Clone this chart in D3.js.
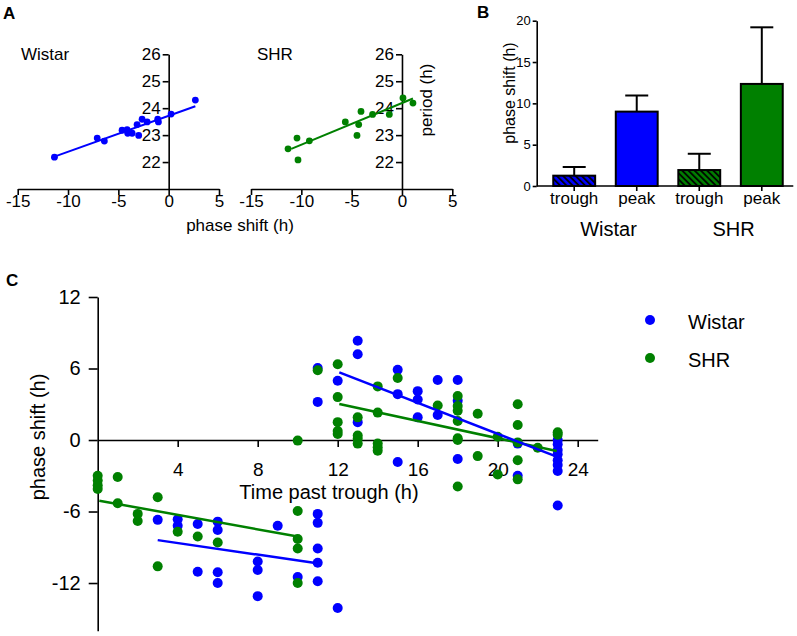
<!DOCTYPE html>
<html><head><meta charset="utf-8">
<script src="https://cdn.jsdelivr.net/npm/d3@7"></script>
<style>
body{margin:0;background:#fff}
svg{display:block}
text{font-family:"Liberation Sans",Arial,sans-serif;fill:#000}
</style>
</head><body>
<svg id="chart" width="797" height="636"></svg>
<script>
// ---------- DATA ----------
// Panel A: period vs phase shift
const wistarShiftA = [-11.35,-7.1,-6.39,-4.63,-4.13,-4.07,-3.63,-3.14,-2.98,-2.64,-2.14,-1.09,-1.02,0.24,2.65];
const wistarPeriodA = [22.18,22.89,22.78,23.18,23.2,23.07,23.07,23.39,22.99,23.59,23.49,23.59,23.49,23.78,24.3];
const shrShiftA = [-11.32,-10.43,-10.33,-9.2,-5.63,-4.47,-4.3,-4.07,-2.92,-1.26,0.1,1.09];
const shrPeriodA = [22.49,22.89,22.08,22.79,23.49,22.99,23.39,23.88,23.77,23.77,24.38,24.19];
const wistarFitA = [[-11.35,22.2],[2.65,24.07]];
const shrFitA = [[-11.0,22.49],[1.09,24.36]];
const xTicksA = [-15,-10,-5,0,5];
const yTicksA = [22,23,24,25,26];

// Panel B: bars
const barGroups = ["Wistar","Wistar","SHR","SHR"];
const barCategories = ["trough","peak","trough","peak"];
const barMeans = [1.25,9.0,1.93,12.35];
const barErrors = [1.05,1.95,1.97,6.85];
const yTicksB = [0,5,10,15,20];

// Panel C: phase shift vs time past trough
const wistarTimeC =  [3,4,4,5,5,6,6,6,6,8,8,8,9,10,11,11,11,11,11,11,11,12,12,13,13,13,15,15,15,16,16,16,17,17,18,18,18,21,21,23,23,23,23,23,23,23,23];
const wistarShiftC = [-6.7,-6.65,-7.2,-7.05,-11.05,-6.85,-7.55,-11.1,-12.0,-10.2,-10.9,-13.1,-7.2,-11.5,6.05,3.2,-6.2,-6.95,-9.1,-10.3,-11.85,-14.1,4.97,8.33,7.2,1.5,5.9,3.85,-1.85,4.1,3.4,1.9,5.03,2.1,5.03,3.3,-1.6,-3.0,-0.3,0,-0.36,-0.84,-1.2,-1.7,-2.1,-2.6,-5.5];
const shrTimeC =  [0,0,0,0,1,1,2,2,3,3,4,5,6,10,10,10,10,10,11,12,12,12,12,12,13,13,13,13,14,14,14,14,14,15,17,18,18,18,18,18,18,18,19,19,20,20,21,21,21,21,21,22,23,23];
const shrShiftC = [-3.0,-3.4,-3.8,-4.1,-3.1,-5.3,-6.2,-6.8,-4.8,-10.6,-7.7,-8.1,-8.6,-0.05,-5.95,-8.3,-9.1,-12.0,5.85,6.35,3.6,1.5,0.75,0.5,1.9,0.37,0.1,-0.3,4.5,2.3,-0.3,-0.6,-0.9,5.2,2.9,3.7,2.85,2.46,1.6,0.14,0,-3.9,2.2,-1.35,0.28,-2.9,3.0,1.26,-0.2,-1.7,-3.3,-0.65,0.65,0.45];
const wistarFitEarly = [[3,-8.4],[10.8,-10.3]];
const wistarFitLate = [[12.08,5.68],[22.95,-1.4]];
const shrFitEarly = [[0.08,-5.09],[10,-8.1]];
const shrFitLate = [[12.08,3.02],[22.95,-0.92]];
const xTicksC = [4,8,12,16,20,24];
const yTicksC = [-12,-6,0,6,12];
const legendLabels = ["Wistar","SHR"];

const BLUE = "#0000ff", GREEN = "#008000";
const FONT = '"Liberation Sans", Arial, sans-serif';
const fmt = d => String(d);

const svg = d3.select("#chart");
const zip = (a,b) => a.map((v,i)=>[v,b[i]]);

function styleAxis(g, fs){
  g.attr("font-size", fs).attr("font-family", FONT);
  g.selectAll("path,line").attr("stroke","#000").attr("stroke-width",1.6);
  g.selectAll("text").attr("fill","#000");
}

// ---------- PANEL A ----------
const yA = d3.scaleLinear([21,26],[189,54.3]);
function scatterA(xRange, xs, ys, fit, color, name, nameX){
  const x = d3.scaleLinear([-15,5], xRange);
  const g = svg.append("g");
  g.append("g").attr("transform",`translate(0,${yA(21)})`)
    .call(d3.axisBottom(x).tickValues(xTicksA).tickFormat(fmt).tickSize(6).tickSizeOuter(0).tickPadding(0))
    .call(a=>styleAxis(a,17));
  g.append("g").attr("transform",`translate(${x(0)},0)`)
    .call(d3.axisLeft(yA).tickValues(yTicksA).tickFormat(fmt).tickSize(6).tickSizeOuter(0).tickPadding(2))
    .call(a=>styleAxis(a,17));
  g.append("path").datum(fit)
    .attr("d", d3.line().x(d=>x(d[0])).y(d=>yA(d[1])))
    .attr("stroke",color).attr("stroke-width",2).attr("fill","none");
  g.selectAll("circle.p").data(zip(xs,ys)).join("circle")
    .attr("cx",d=>x(d[0])).attr("cy",d=>yA(d[1])).attr("r",3.4).attr("fill",color);
  g.append("text").attr("x",nameX).attr("y",60).attr("font-size",17).text(name);
}
scatterA([17.7,219], wistarShiftA, wistarPeriodA, wistarFitA, BLUE, "Wistar", 21);
scatterA([251,452.3], shrShiftA, shrPeriodA, shrFitA, GREEN, "SHR", 257);
svg.append("text").attr("x",240).attr("y",231).attr("text-anchor","middle").attr("font-size",17).text("phase shift (h)");
svg.append("text").attr("transform","translate(432,100) rotate(-90)").attr("text-anchor","middle").attr("font-size",17).text("period (h)");
svg.append("text").attr("x",3).attr("y",19).attr("font-size",17).attr("font-weight","bold").text("A");

// ---------- PANEL B ----------
const defs = svg.append("defs");
function hatch(id, color){
  const p = defs.append("pattern").attr("id",id).attr("patternUnits","userSpaceOnUse")
    .attr("width",4.4).attr("height",4.4).attr("patternTransform","rotate(-45)");
  p.append("rect").attr("width",4.4).attr("height",4.4).attr("fill",color);
  p.append("line").attr("x1",1).attr("y1",0).attr("x2",1).attr("y2",4.4).attr("stroke","#000").attr("stroke-width",1.8);
}
hatch("hatchBlue", BLUE);
hatch("hatchGreen", GREEN);

const keysB = barGroups.map((g,i)=>g+" "+barCategories[i]);
const xB = d3.scaleBand().domain(keysB).range([542,794]).paddingInner(0.33).paddingOuter(0.18);
const yB = d3.scaleLinear([0,20],[186,20.7]);
const gB = svg.append("g");
// error bars
keysB.forEach((k,i)=>{
  const cx = xB(k)+xB.bandwidth()/2;
  gB.append("line").attr("x1",cx).attr("x2",cx).attr("y1",yB(barMeans[i])).attr("y2",yB(barMeans[i]+barErrors[i]))
    .attr("stroke","#000").attr("stroke-width",2);
  gB.append("line").attr("x1",cx-11.5).attr("x2",cx+11.5).attr("y1",yB(barMeans[i]+barErrors[i])).attr("y2",yB(barMeans[i]+barErrors[i]))
    .attr("stroke","#000").attr("stroke-width",2);
});
gB.selectAll("rect.bar").data(keysB).join("rect")
  .attr("x",k=>xB(k)).attr("width",xB.bandwidth())
  .attr("y",(k,i)=>yB(barMeans[i])).attr("height",(k,i)=>yB(0)-yB(barMeans[i]))
  .attr("fill",(k,i)=>{
    const blue = barGroups[i]==="Wistar";
    if(barCategories[i]==="trough") return blue?"url(#hatchBlue)":"url(#hatchGreen)";
    return blue?BLUE:GREEN;
  })
  .attr("stroke","#000").attr("stroke-width",2);
gB.append("g").attr("transform",`translate(0,${yB(0)})`)
  .call(d3.axisBottom(xB).tickSize(5).tickSizeOuter(0).tickPadding(1).tickFormat((k,i)=>barCategories[i]))
  .call(a=>{styleAxis(a,17); a.select(".domain").attr("d","M536.7,0H793.3");});
gB.append("g").attr("transform",`translate(536.7,0)`)
  .call(d3.axisLeft(yB).tickValues(yTicksB).tickFormat(fmt).tickSize(4).tickSizeOuter(0).tickPadding(2))
  .call(a=>styleAxis(a,13));
["Wistar","SHR"].forEach(gname=>{
  const ks = keysB.filter((k,i)=>barGroups[i]===gname);
  const cx = (xB(ks[0]) + xB(ks[ks.length-1]) + xB.bandwidth())/2;
  gB.append("text").attr("x",cx+3).attr("y",236).attr("text-anchor","middle").attr("font-size",20).text(gname);
});
svg.append("text").attr("transform","translate(515,93) rotate(-90)").attr("text-anchor","middle").attr("font-size",16).text("phase shift (h)");
svg.append("text").attr("x",477).attr("y",18).attr("font-size",17).attr("font-weight","bold").text("B");

// ---------- PANEL C ----------
const xC = d3.scaleLinear([0,25],[97.7,597.7]);
const yC = d3.scaleLinear([-16,12],[630.7,297]);
const gC = svg.append("g");
gC.append("g").attr("transform",`translate(0,${yC(0)})`)
  .call(d3.axisBottom(xC).tickValues(xTicksC).tickFormat(fmt).tickSize(7).tickSizeOuter(0).tickPadding(16))
  .call(a=>styleAxis(a,19));
gC.append("g").attr("transform",`translate(${xC(0)},0)`)
  .call(d3.axisLeft(yC).tickValues(yTicksC).tickFormat(fmt).tickSize(9).tickSizeOuter(0).tickPadding(8))
  .call(a=>styleAxis(a,20));
gC.selectAll("circle.w").data(zip(wistarTimeC,wistarShiftC)).join("circle").attr("class","w")
  .attr("cx",d=>xC(d[0])).attr("cy",d=>yC(d[1])).attr("r",5).attr("fill",BLUE);
gC.selectAll("circle.s").data(zip(shrTimeC,shrShiftC)).join("circle").attr("class","s")
  .attr("cx",d=>xC(d[0])).attr("cy",d=>yC(d[1])).attr("r",5).attr("fill",GREEN);
const lineC = d3.line().x(d=>xC(d[0])).y(d=>yC(d[1]));
[[shrFitEarly,GREEN],[shrFitLate,GREEN],[wistarFitEarly,BLUE],[wistarFitLate,BLUE]].forEach(([f,c])=>{
  gC.append("path").datum(f).attr("d",lineC).attr("stroke",c).attr("stroke-width",2.5).attr("fill","none");
});
svg.append("text").attr("x",329).attr("y",499).attr("text-anchor","middle").attr("font-size",20).text("Time past trough (h)");
svg.append("text").attr("transform","translate(45,437) rotate(-90)").attr("text-anchor","middle").attr("font-size",20).text("phase shift (h)");
svg.append("text").attr("x",6).attr("y",286).attr("font-size",17).attr("font-weight","bold").text("C");
// legend
legendLabels.forEach((lab,i)=>{
  const cy = 320 + i*38;
  svg.append("circle").attr("cx",650).attr("cy",cy).attr("r",5).attr("fill",i===0?BLUE:GREEN);
  svg.append("text").attr("x",688).attr("y",cy+9).attr("font-size",20).text(lab);
});
</script>
</body></html>
